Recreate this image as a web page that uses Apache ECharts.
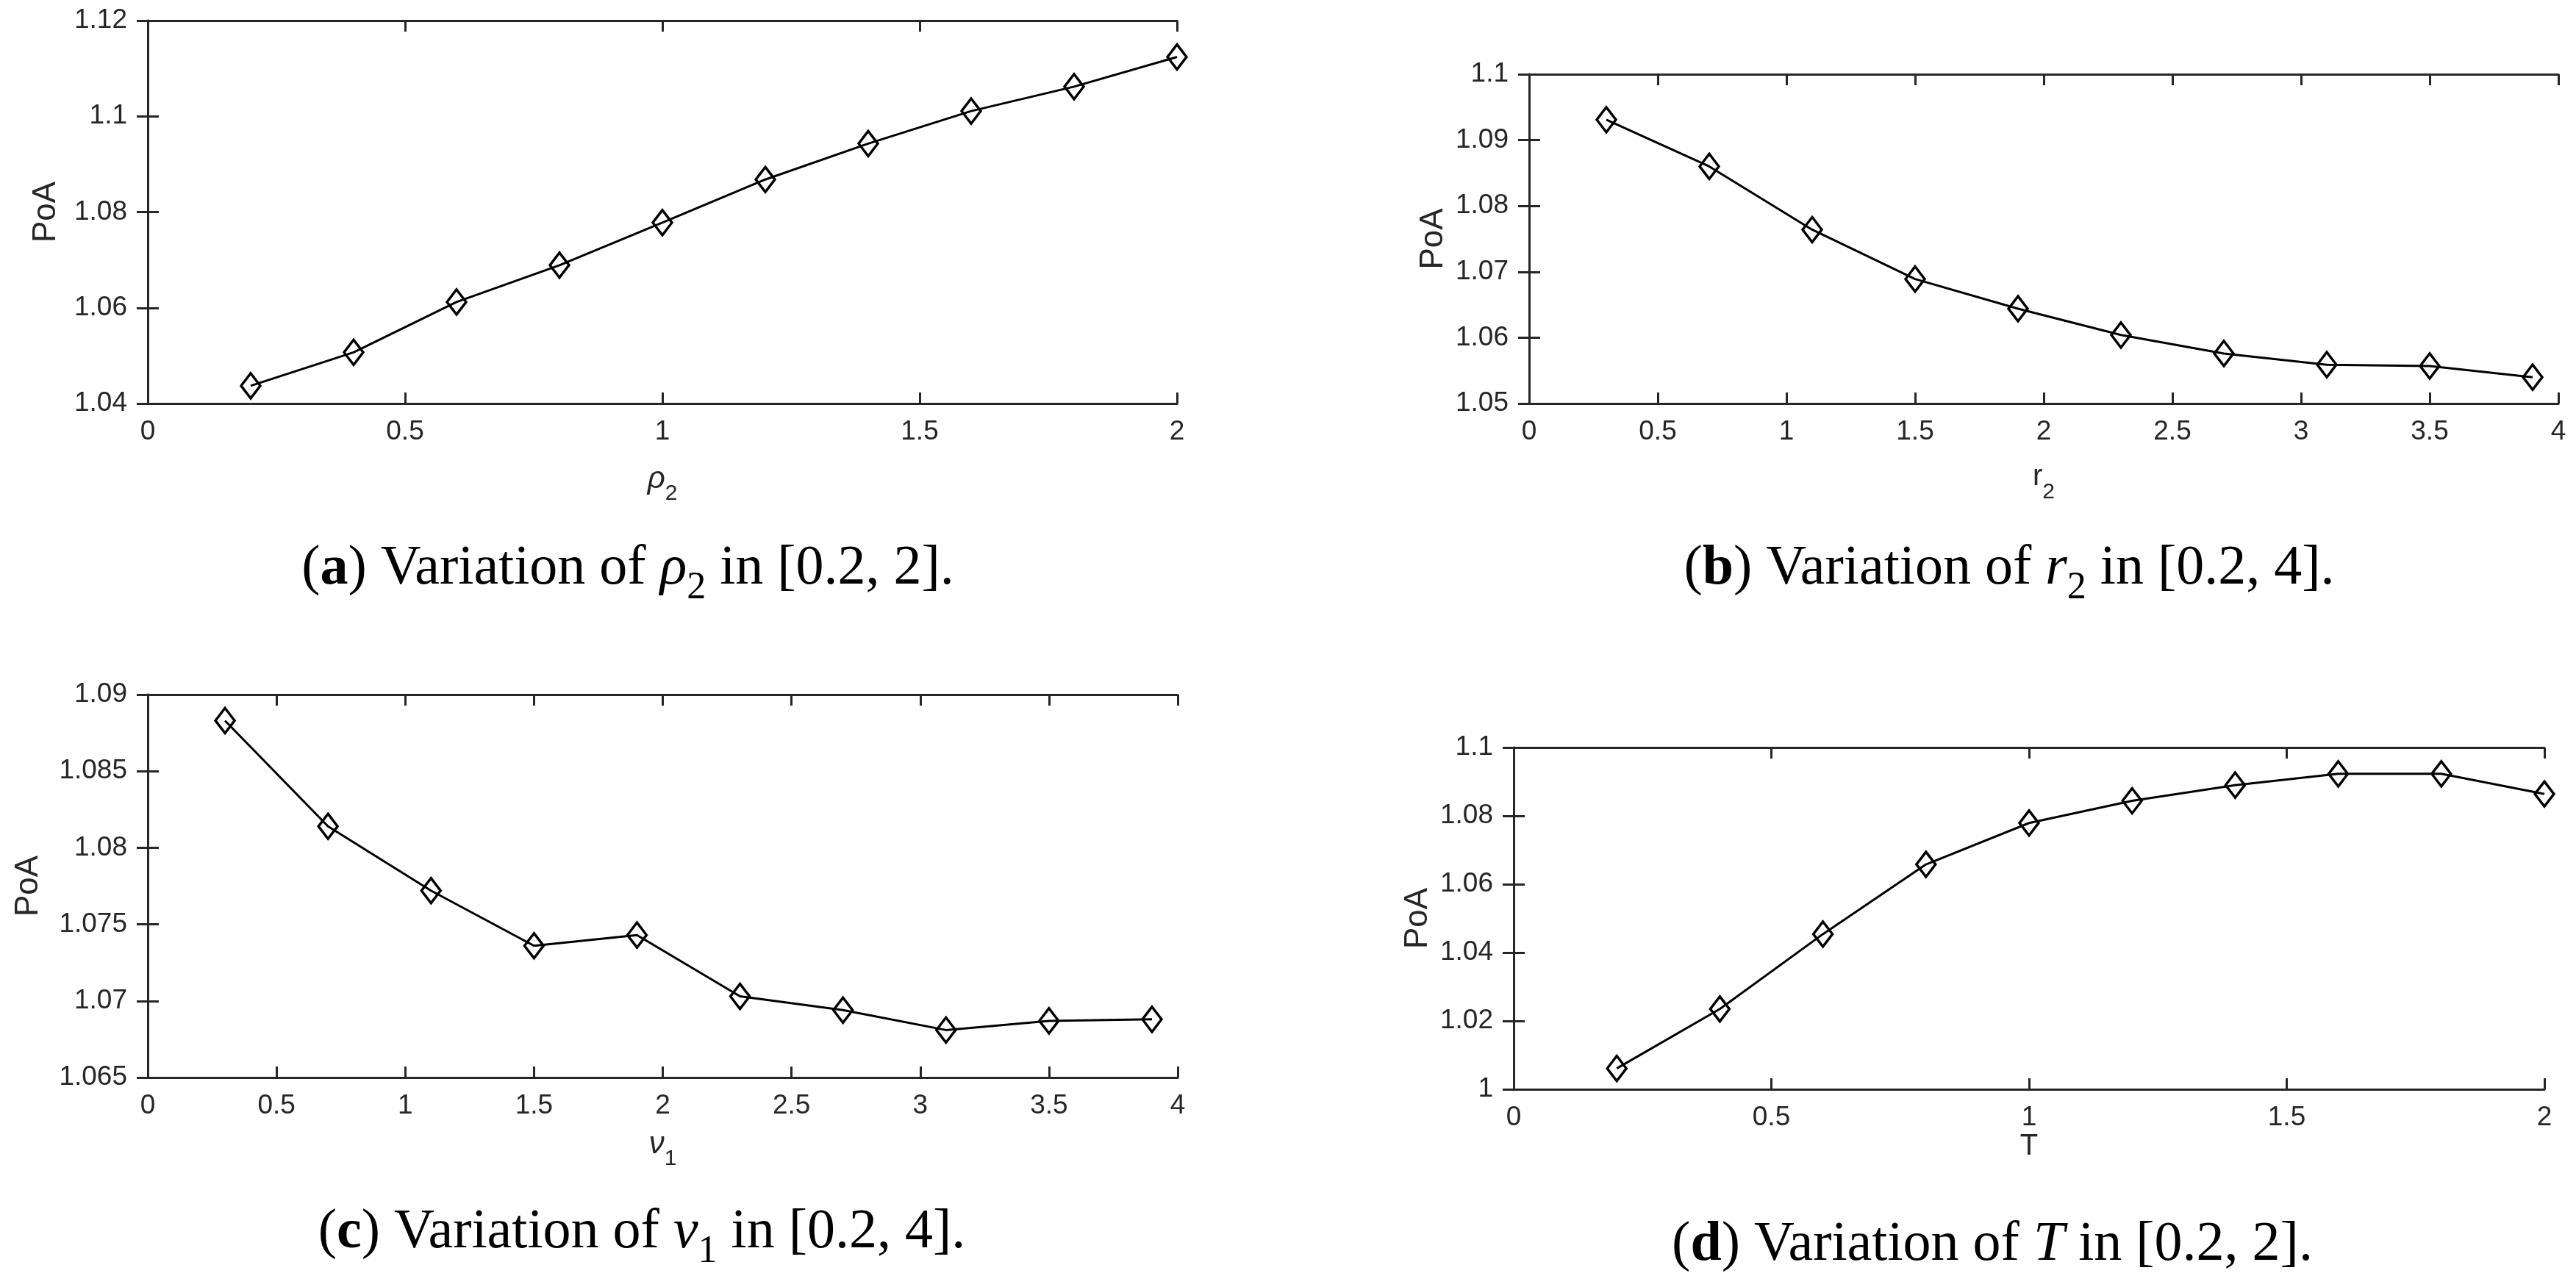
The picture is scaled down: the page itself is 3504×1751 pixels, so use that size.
<!DOCTYPE html>
<html>
<head>
<meta charset="UTF-8">
<title>PoA sensitivity</title>
<style>
  html, body { margin: 0; padding: 0; background: #fff; }
  #chart { width: 3504px; height: 1751px; }
</style>
</head>
<body>
<div id="chart"></div>
<script src="https://cdn.jsdelivr.net/npm/echarts@6/dist/echarts.min.js"></script>
<script>
// (a) rho_2
var rhoX = [0.2, 0.4, 0.6, 0.8, 1.0, 1.2, 1.4, 1.6, 1.8, 2.0];
var rhoPoA = [1.0437, 1.0507, 1.0612, 1.0689, 1.0778, 1.0868, 1.0943, 1.1011, 1.1062, 1.1124];
// (b) r_2
var rX = [0.3, 0.7, 1.1, 1.5, 1.9, 2.3, 2.7, 3.1, 3.5, 3.9];
var rPoA = [1.0931, 1.0860, 1.0764, 1.0689, 1.0644, 1.0604, 1.0576, 1.0559, 1.0557, 1.0540];
// (c) nu_1
var nuX = [0.3, 0.7, 1.1, 1.5, 1.9, 2.3, 2.7, 3.1, 3.5, 3.9];
var nuPoA = [1.0883, 1.0814, 1.0772, 1.0736, 1.0743, 1.0703, 1.0694, 1.0681, 1.0687, 1.0688];
// (d) T
var tX = [0.2, 0.4, 0.6, 0.8, 1.0, 1.2, 1.4, 1.6, 1.8, 2.0];
var tPoA = [1.0061, 1.0235, 1.0454, 1.0658, 1.0779, 1.0844, 1.0890, 1.0923, 1.0923, 1.0864];

var AX = '#262626';
var SANS = 'Liberation Sans, Helvetica, Arial, sans-serif';
var SERIF = 'Liberation Serif, Times New Roman, serif';

function fmt(v) { return String(parseFloat(v.toFixed(4))); }

var panels = [
  {grid: {left: 201, top: 28, width: 1400, height: 521}, xs: rhoX, ys: rhoPoA,
   x: [0, 2, 0.5], y: [1.04, 1.12, 0.02], xname: '{i|ρ}{s|2}', xgap: 82, ygap: 116},
  {grid: {left: 2080, top: 101, width: 1400, height: 448}, xs: rX, ys: rPoA,
   x: [0, 4, 0.5], y: [1.05, 1.1, 0.01], xname: '{n|r}{s|2}', xgap: 80, ygap: 108},
  {grid: {left: 201, top: 945, width: 1401, height: 521}, xs: nuX, ys: nuPoA,
   x: [0, 4, 0.5], y: [1.065, 1.09, 0.005], xname: '{i|ν}{s|1}', xgap: 70, ygap: 140},
  {grid: {left: 2059, top: 1017, width: 1402, height: 465}, xs: tX, ys: tPoA,
   x: [0, 2, 0.5], y: [1, 1.1, 0.02], xname: '{n|T}', xgap: 58, ygap: 108}
];

var grids = [], xAxes = [], yAxes = [], series = [];
panels.forEach(function (p, k) {
  grids.push(p.grid);
  var line = {show: true, lineStyle: {color: AX, width: 3}};
  var tick = {show: true, inside: true, length: 15, lineStyle: {color: AX, width: 3}};
  var lab = {color: AX, fontFamily: SANS, fontSize: 37, formatter: fmt};
  xAxes.push({
    type: 'value', gridIndex: k, position: 'bottom', min: p.x[0], max: p.x[1], interval: p.x[2],
    axisLine: line, axisTick: tick, splitLine: {show: false},
    axisLabel: Object.assign({margin: 20}, lab),
    name: p.xname, nameLocation: 'middle', nameGap: p.xgap,
    nameTextStyle: {color: AX, fontFamily: SANS, fontSize: 40,
      rich: {
        i: {fontFamily: SANS, fontSize: 42, fontStyle: 'italic', color: AX, lineHeight: 56, verticalAlign: 'top'},
        n: {fontFamily: SANS, fontSize: 40, color: AX, lineHeight: 56, verticalAlign: 'top'},
        s: {fontFamily: SANS, fontSize: 30, color: AX, lineHeight: 56, verticalAlign: 'bottom'}
      }}
  });
  xAxes.push({
    type: 'value', gridIndex: k, position: 'top', min: p.x[0], max: p.x[1], interval: p.x[2],
    axisLine: line, axisTick: tick, axisLabel: {show: false}, splitLine: {show: false}
  });
  yAxes.push({
    type: 'value', gridIndex: k, position: 'left', min: p.y[0], max: p.y[1], interval: p.y[2],
    axisLine: line, axisTick: tick, splitLine: {show: false},
    axisLabel: Object.assign({margin: 28}, lab),
    name: 'PoA', nameLocation: 'middle', nameGap: p.ygap, nameRotate: 90,
    nameTextStyle: {color: AX, fontFamily: SANS, fontSize: 44}
  });
  yAxes.push({
    type: 'value', gridIndex: k, position: 'right', min: p.y[0], max: p.y[1], interval: p.y[2],
    axisLine: line, axisTick: tick, axisLabel: {show: false}, splitLine: {show: false}
  });
  series.push({
    type: 'line', xAxisIndex: 2 * k, yAxisIndex: 2 * k,
    data: p.xs.map(function (x, i) { return [x, p.ys[i]]; }),
    symbol: 'diamond', symbolSize: [26, 34], showAllSymbol: true,
    lineStyle: {color: '#000', width: 3},
    itemStyle: {color: 'rgba(0,0,0,0)', borderColor: '#000', borderWidth: 3.5},
    animation: false, silent: true
  });
});

var capRich = {
  n: {fontFamily: SERIF, fontSize: 76, color: '#000', lineHeight: 90, verticalAlign: 'top'},
  b: {fontFamily: SERIF, fontSize: 76, fontWeight: 'bold', color: '#000', lineHeight: 90, verticalAlign: 'top'},
  i: {fontFamily: SERIF, fontSize: 76, fontStyle: 'italic', color: '#000', lineHeight: 90, verticalAlign: 'top'},
  s: {fontFamily: SERIF, fontSize: 52, color: '#000', lineHeight: 90, verticalAlign: 'bottom'}
};
function caption(x, y, txt) {
  return {type: 'text', x: x, y: y, silent: true,
    style: {text: txt, rich: capRich, font: '76px ' + SERIF, fill: '#000', align: 'center', verticalAlign: 'middle'}};
}

var chart = echarts.init(document.getElementById('chart'), null, {renderer: 'canvas'});
chart.setOption({
  backgroundColor: '#fff',
  animation: false,
  grid: grids,
  xAxis: xAxes,
  yAxis: yAxes,
  series: series,
  graphic: [
    caption(854, 781, '{n|(}{b|a}{n|) Variation of }{i|ρ}{s|2}{n| in [0.2, 2].}'),
    caption(2733, 781, '{n|(}{b|b}{n|) Variation of }{i|r}{s|2}{n| in [0.2, 4].}'),
    caption(873, 1684, '{n|(}{b|c}{n|) Variation of }{i|ν}{s|1}{n| in [0.2, 4].}'),
    caption(2710, 1701, '{n|(}{b|d}{n|) Variation of }{i|T}{n| in [0.2, 2].}')
  ]
});
</script>
</body>
</html>
